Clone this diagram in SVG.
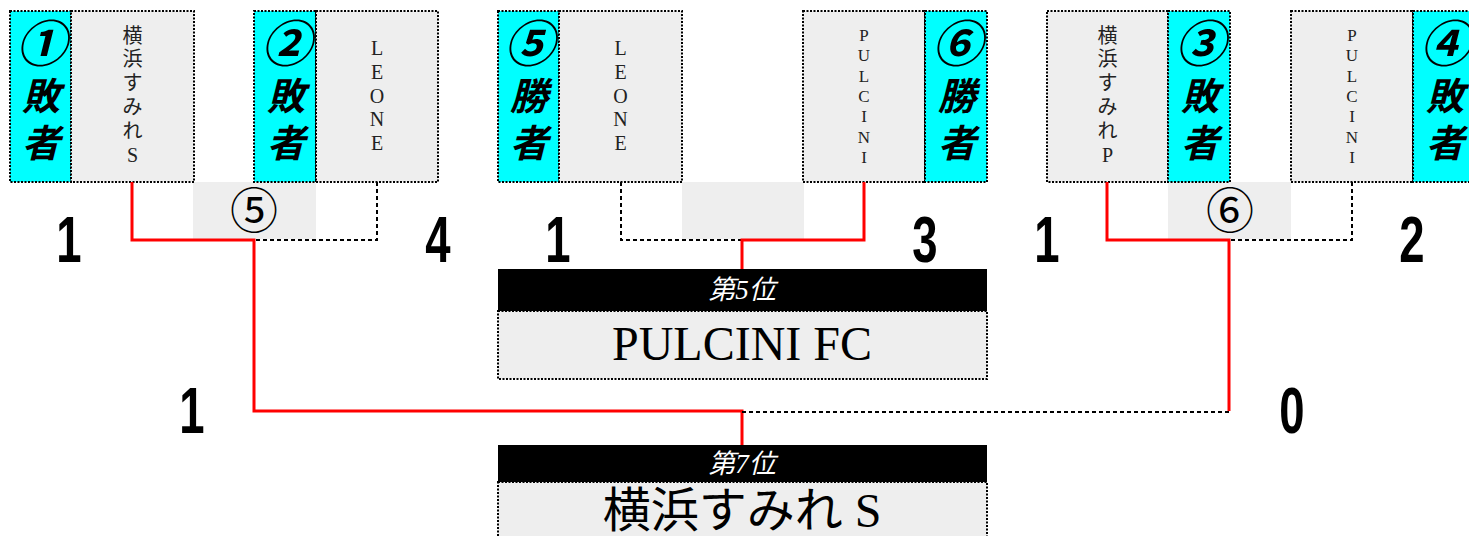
<svg xmlns="http://www.w3.org/2000/svg" width="1469" height="536" viewBox="0 0 1469 536">
<style>
.cy{fill:#00ffff;stroke:#000;stroke-width:2;stroke-dasharray:2 1.5}
.gy{fill:#eeeeee;stroke:#000;stroke-width:2;stroke-dasharray:2 1.5}
.mid{fill:#eeeeee}
.lbl{font-family:"Noto Sans CJK JP",sans-serif;font-weight:bold;font-style:italic;font-size:38px;fill:#000;text-anchor:middle}
.circ{font-size:50px}
.nm{font-family:"Liberation Serif","Noto Sans CJK JP",serif;font-size:20px;fill:#222;text-anchor:middle}
.nm2{font-family:"Liberation Serif","Noto Sans CJK JP",serif;font-size:17px;fill:#222;text-anchor:middle}
.score{font-family:"Liberation Sans",sans-serif;font-weight:bold;font-size:65px;fill:#000;text-anchor:middle}
.red{fill:none;stroke:#ff0000;stroke-width:3}
.dash{fill:none;stroke:#000;stroke-width:2;stroke-dasharray:4 3}
.bar{fill:#000}
.place{font-family:"Liberation Serif","Noto Sans CJK JP",serif;font-style:italic;font-size:27px;fill:#fff;text-anchor:middle}
.team{font-family:"Liberation Serif","Noto Sans CJK JP",serif;font-size:48px;fill:#000;text-anchor:middle}
.mnum{font-family:"Noto Sans CJK JP",sans-serif;font-size:48px;fill:#000;text-anchor:middle}
</style>

<g id="match-labels">
<rect class="mid" x="193" y="182" width="123" height="57"/>
<text class="mnum" x="254" y="228">⑤</text>
<rect class="mid" x="682" y="182" width="122" height="57"/>
<rect class="mid" x="1168" y="182" width="123" height="57"/>
<text class="mnum" x="1230" y="228">⑥</text>
</g>

<g id="box1">
<rect class="cy" x="10" y="11" width="61" height="171"/>
<rect class="gy" x="71" y="11" width="123" height="171"/>
<text class="lbl" x="41" y="62"><tspan class="circ">①</tspan><tspan x="41" y="110">敗</tspan><tspan x="41" y="157">者</tspan></text>
<text class="nm" x="132.5" y="42.5">横<tspan x="132.5" dy="23.8">浜</tspan><tspan x="132.5" dy="23.8">す</tspan><tspan x="132.5" dy="23.8">み</tspan><tspan x="132.5" dy="23.8">れ</tspan><tspan x="132.5" dy="23.8">S</tspan></text>
</g>

<g id="box2">
<rect class="cy" x="254" y="11" width="62" height="171"/>
<rect class="gy" x="316" y="11" width="122" height="171"/>
<text class="lbl" x="286" y="62"><tspan class="circ">②</tspan><tspan x="286" y="110">敗</tspan><tspan x="286" y="157">者</tspan></text>
<text class="nm" x="377" y="55">L<tspan x="377" dy="23.75">E</tspan><tspan x="377" dy="23.75">O</tspan><tspan x="377" dy="23.75">N</tspan><tspan x="377" dy="23.75">E</tspan></text>
</g>

<g id="box5">
<rect class="cy" x="498" y="11" width="61" height="171"/>
<rect class="gy" x="559" y="11" width="123" height="171"/>
<text class="lbl" x="529" y="62"><tspan class="circ">⑤</tspan><tspan x="529" y="110">勝</tspan><tspan x="529" y="157">者</tspan></text>
<text class="nm" x="620.5" y="55">L<tspan x="620.5" dy="23.75">E</tspan><tspan x="620.5" dy="23.75">O</tspan><tspan x="620.5" dy="23.75">N</tspan><tspan x="620.5" dy="23.75">E</tspan></text>
</g>

<g id="box6">
<rect class="gy" x="803" y="11" width="122" height="171"/>
<rect class="cy" x="925" y="11" width="62" height="171"/>
<text class="lbl" x="957" y="62"><tspan class="circ">⑥</tspan><tspan x="957" y="110">勝</tspan><tspan x="957" y="157">者</tspan></text>
<text class="nm2" x="864" y="41">P<tspan x="864" dy="20.33">U</tspan><tspan x="864" dy="20.33">L</tspan><tspan x="864" dy="20.33">C</tspan><tspan x="864" dy="20.33">I</tspan><tspan x="864" dy="20.33">N</tspan><tspan x="864" dy="20.33">I</tspan></text>
</g>

<g id="box3">
<rect class="gy" x="1047" y="11" width="121" height="171"/>
<rect class="cy" x="1168" y="11" width="62" height="171"/>
<text class="lbl" x="1200" y="62"><tspan class="circ">③</tspan><tspan x="1200" y="110">敗</tspan><tspan x="1200" y="157">者</tspan></text>
<text class="nm" x="1107.5" y="42.5">横<tspan x="1107.5" dy="23.8">浜</tspan><tspan x="1107.5" dy="23.8">す</tspan><tspan x="1107.5" dy="23.8">み</tspan><tspan x="1107.5" dy="23.8">れ</tspan><tspan x="1107.5" dy="23.8">P</tspan></text>
</g>

<g id="box4">
<rect class="gy" x="1291" y="11" width="122" height="171"/>
<rect class="cy" x="1413" y="11" width="62" height="171"/>
<text class="lbl" x="1445" y="62"><tspan class="circ">④</tspan><tspan x="1445" y="110">敗</tspan><tspan x="1445" y="157">者</tspan></text>
<text class="nm2" x="1352" y="41">P<tspan x="1352" dy="20.33">U</tspan><tspan x="1352" dy="20.33">L</tspan><tspan x="1352" dy="20.33">C</tspan><tspan x="1352" dy="20.33">I</tspan><tspan x="1352" dy="20.33">N</tspan><tspan x="1352" dy="20.33">I</tspan></text>
</g>

<g id="connectors">
<polyline class="dash" points="377,182 377,240 254,240"/>
<polyline class="red" points="132,182 132,240 254,240 254,411 742,411 742,445"/>
<polyline class="dash" points="621,182 621,240 742,240"/>
<polyline class="red" points="864,182 864,240 742,240 742,269"/>
<polyline class="dash" points="1352,182 1352,240 1229,240"/>
<polyline class="red" points="1107,182 1107,240 1229,240 1229,411"/>
<polyline class="dash" points="742,412 1229,412"/>
</g>

<g id="scores">
<text class="score" transform="translate(69,262) scale(0.7,1)">1</text>
<text class="score" transform="translate(438,262) scale(0.7,1)">4</text>
<text class="score" transform="translate(558,262) scale(0.7,1)">1</text>
<text class="score" transform="translate(925,262) scale(0.7,1)">3</text>
<text class="score" transform="translate(1047,262) scale(0.7,1)">1</text>
<text class="score" transform="translate(1412,262) scale(0.7,1)">2</text>
<text class="score" transform="translate(192,433) scale(0.7,1)">1</text>
<text class="score" transform="translate(1292,433) scale(0.7,1)">0</text>
</g>

<g id="place5">
<rect class="gy" x="498" y="311" width="489" height="68"/>
<rect class="bar" x="498" y="269" width="489" height="42"/>
<text class="place" x="742" y="299">第5位</text>
<text class="team" x="742" y="360">PULCINI FC</text>
</g>

<g id="place7">
<rect class="gy" x="498" y="482" width="489" height="70"/>
<rect class="bar" x="498" y="445" width="489" height="37"/>
<text class="place" x="742" y="473">第7位</text>
<text class="team" x="742" y="527" font-size="44">横浜すみれ S</text>
</g>
</svg>
